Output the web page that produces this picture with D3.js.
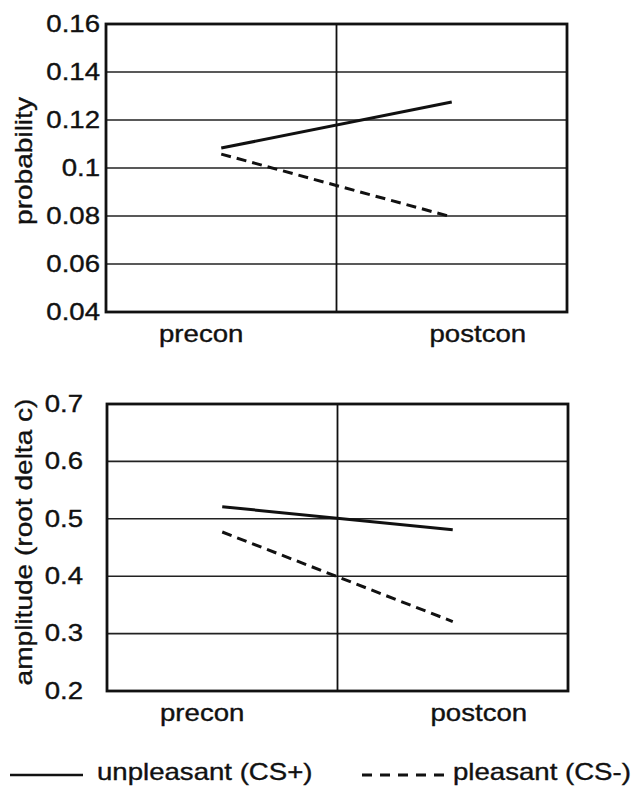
<!DOCTYPE html>
<html>
<head>
<meta charset="utf-8">
<script src="https://cdn.jsdelivr.net/npm/d3@7"></script>
<style>
	body { margin: 0; background: #fff; }
	svg text { font-family: "Liberation Sans", Arial, sans-serif; fill: #111; stroke: #111; stroke-width: 0.35px; }
</style>
</head>
<body>
<script>
//chart data
var categories = ["precon", "postcon"];
var seriesNames = ["unpleasant (CS+)", "pleasant (CS-)"];
var probUnpleasant = [0.1083, 0.1275];
var probPleasant = [0.1058, 0.0796];
var ampUnpleasant = [0.521, 0.481];
var ampPleasant = [0.477, 0.321];
var probTicks = [0.04, 0.06, 0.08, 0.1, 0.12, 0.14, 0.16];
var probTickLabels = ["0.04", "0.06", "0.08", "0.1", "0.12", "0.14", "0.16"];
var ampTicks = [0.2, 0.3, 0.4, 0.5, 0.6, 0.7];
var ampTickLabels = ["0.2", "0.3", "0.4", "0.5", "0.6", "0.7"];

(function () {
	var width = 635, height = 788;
	var fontSize = 23,
		stretch = "scale(1.2,1)"; //the scanned lettering is wider than plain Arial

	var svg = d3.select("body")
		.append("svg")
		.attr("width", width)
		.attr("height", height);

	//top panel: probability
	drawPanel({
		top: 24, bottom: 312, left: 106, right: 567,
		domain: [0.04, 0.16], ticks: probTicks, tickLabels: probTickLabels,
		tickGap: 6, title: "probability", titleX: 32, titleY: 161, labelOffset: 30,
		series: [probUnpleasant, probPleasant]
	});

	//bottom panel: amplitude
	drawPanel({
		top: 404, bottom: 691, left: 107, right: 568,
		domain: [0.2, 0.7], ticks: ampTicks, tickLabels: ampTickLabels,
		tickGap: 24, title: "amplitude (root delta c)", titleX: 32, titleY: 542, labelOffset: 30,
		series: [ampUnpleasant, ampPleasant]
	});

	function drawPanel(o) {
		var g = svg.append("g");

		var x = d3.scalePoint()
			.domain(categories)
			.range([o.left, o.right])
			.padding(0.5);

		//category labels sit a bit outside the data points
		var xLabel = d3.scalePoint()
			.domain(categories)
			.range([o.left + 3, o.right + 3])
			.padding(1 / 3);

		var y = d3.scaleLinear()
			.domain(o.domain)
			.range([o.bottom, o.top]);

		//horizontal gridlines
		g.selectAll(".grid")
			.data(o.ticks)
			.enter()
			.append("line")
			.attr("x1", o.left)
			.attr("x2", o.right)
			.attr("y1", function (d) { return y(d); })
			.attr("y2", function (d) { return y(d); })
			.attr("stroke", "#222")
			.attr("stroke-width", 1.6);

		//vertical divider between the two conditions
		var mid = (x(categories[0]) + x(categories[1])) / 2;
		g.append("line")
			.attr("x1", mid).attr("x2", mid)
			.attr("y1", o.top).attr("y2", o.bottom)
			.attr("stroke", "#111")
			.attr("stroke-width", 1.8);

		//frame
		g.append("rect")
			.attr("x", o.left)
			.attr("y", o.top)
			.attr("width", o.right - o.left)
			.attr("height", o.bottom - o.top)
			.attr("fill", "none")
			.attr("stroke", "#111")
			.attr("stroke-width", 2.8);

		//y axis tick labels
		var yAxis = d3.axisLeft(y)
			.tickValues(o.ticks)
			.tickFormat(function (d, i) { return o.tickLabels[i]; })
			.tickSize(0);
		var ya = g.append("g")
			.attr("transform", "translate(" + o.left + ",0)")
			.call(yAxis);
		ya.select(".domain").remove();
		ya.attr("font-size", null).attr("font-family", null);
		ya.selectAll("text")
			.attr("x", 0)
			.attr("font-size", fontSize)
			.attr("transform", "translate(" + (-o.tickGap) + ",0) " + stretch);

		//x category labels
		g.selectAll(".xlab")
			.data(categories)
			.enter()
			.append("text")
			.attr("transform", function (d) {
				return "translate(" + xLabel(d) + "," + (o.bottom + o.labelOffset) + ") " + stretch;
			})
			.attr("text-anchor", "middle")
			.attr("font-size", fontSize)
			.text(function (d) { return d; });

		//y title
		g.append("text")
			.attr("transform", "translate(" + o.titleX + "," + o.titleY + ") rotate(-90) scale(1.22,1)")
			.attr("text-anchor", "middle")
			.attr("font-size", fontSize)
			.text(o.title);

		//data lines
		var line = d3.line()
			.x(function (d, i) { return x(categories[i]); })
			.y(function (d) { return y(d); });

		o.series.forEach(function (vals, i) {
			g.append("path")
				.datum(vals)
				.attr("d", line)
				.attr("fill", "none")
				.attr("stroke", "#111")
				.attr("stroke-width", 3)
				.attr("stroke-dasharray", i === 1 ? "10,6" : null);
		});
	}

	//legend
	var legend = svg.append("g");
	var legendItems = [
		{ x1: 10, x2: 83, textX: 97, dash: null, w: 2.6 },
		{ x1: 362, x2: 448, textX: 453, dash: "10,8", w: 3 }
	];
	legendItems.forEach(function (d, i) {
		legend.append("line")
			.attr("x1", d.x1).attr("x2", d.x2)
			.attr("y1", 775).attr("y2", 775)
			.attr("stroke", "#111")
			.attr("stroke-width", d.w)
			.attr("stroke-dasharray", d.dash);
		legend.append("text")
			.attr("transform", "translate(" + d.textX + ",780) " + stretch)
			.attr("font-size", fontSize)
			.text(seriesNames[i]);
	});
})();
</script>
</body>
</html>
